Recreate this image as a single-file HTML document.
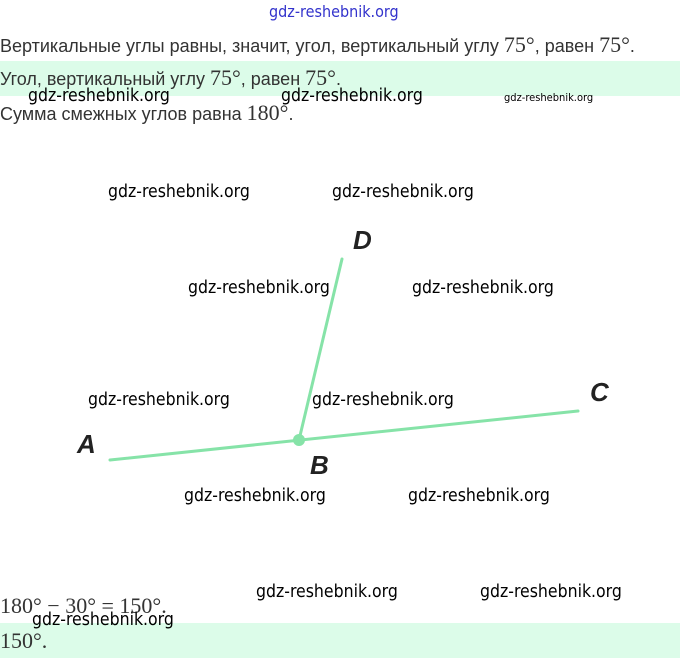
<!DOCTYPE html>
<html><head><meta charset="utf-8"><style>
body{margin:0;width:680px;height:658px;background:#fff;position:relative;overflow:hidden;font-family:"Liberation Sans",sans-serif;color:#333}
.t{position:absolute;font-size:18px;white-space:nowrap}
.m{font-family:"Liberation Serif",serif;font-size:22px}
.w{position:absolute;font-size:17.5px;color:#000;white-space:nowrap;font-family:"DejaVu Sans Condensed","Liberation Sans",sans-serif}
.band{position:absolute;left:0;width:680px;background:#dcfce9}
</style></head><body>
<div class="band" style="top:61px;height:35px"></div>
<div class="band" style="top:623px;height:35px"></div>
<div class="w" style="left:269px;top:2px;color:#3333cc;font-size:16px">gdz-reshebnik.org</div>
<div class="t" style="left:0;top:32px">Вертикальные углы равны, значит, угол, вертикальный углу <span class="m">75°</span>, равен <span class="m">75°</span>.</div>
<div class="t" style="left:0;top:65px">Угол, вертикальный углу <span class="m">75°</span>, равен <span class="m">75°</span>.</div>
<div class="t" style="left:0;top:100px">Сумма смежных углов равна <span class="m">180°</span>.</div>
<div class="w" style="left:28px;top:86px">gdz-reshebnik.org</div>
<div class="w" style="left:281px;top:86px">gdz-reshebnik.org</div>
<div class="w" style="left:504px;top:91px;font-size:11px">gdz-reshebnik.org</div>
<svg width="680" height="658" style="position:absolute;left:0;top:0">
<g stroke="#86e3a8" stroke-width="3" stroke-linecap="round">
<line x1="110" y1="460" x2="578" y2="411"/>
<line x1="299" y1="440" x2="342" y2="259"/>
</g>
<circle cx="299" cy="440" r="6" fill="#86e3a8"/>
<g font-family="Liberation Sans,sans-serif" font-style="italic" font-weight="bold" font-size="26" fill="#222">
<text x="77" y="453">A</text><text x="310" y="474">B</text><text x="590" y="401">C</text><text x="353" y="249">D</text>
</g>
</svg>
<div class="w" style="left:108px;top:182px">gdz-reshebnik.org</div>
<div class="w" style="left:332px;top:182px">gdz-reshebnik.org</div>
<div class="w" style="left:188px;top:278px">gdz-reshebnik.org</div>
<div class="w" style="left:412px;top:278px">gdz-reshebnik.org</div>
<div class="w" style="left:88px;top:390px">gdz-reshebnik.org</div>
<div class="w" style="left:312px;top:390px">gdz-reshebnik.org</div>
<div class="w" style="left:184px;top:486px">gdz-reshebnik.org</div>
<div class="w" style="left:408px;top:486px">gdz-reshebnik.org</div>
<div class="w" style="left:256px;top:582px">gdz-reshebnik.org</div>
<div class="w" style="left:480px;top:582px">gdz-reshebnik.org</div>
<div class="t m" style="left:0;top:593px">180° − 30° = 150°.</div>
<div class="w" style="left:32px;top:610px">gdz-reshebnik.org</div>
<div class="t m" style="left:0;top:628px">150°.</div>
</body></html>
